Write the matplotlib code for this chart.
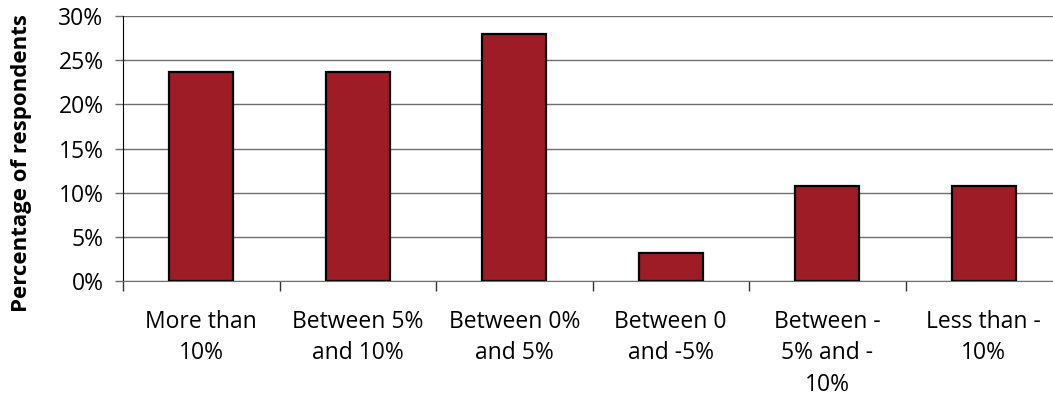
import matplotlib
matplotlib.use("Agg")
import matplotlib.pyplot as plt
from matplotlib.ticker import FixedLocator

categories = ["More than\n10%", "Between 5%\nand 10%", "Between 0%\nand 5%",
              "Between 0\nand -5%", "Between -\n5% and -\n10%", "Less than -\n10%"]
share = [23.7, 23.7, 28.0, 3.2, 10.8, 10.8]
yticks = [0, 5, 10, 15, 20, 25, 30]

label_font = dict(fontfamily="Open Sans", fontsize=16.5)

fig = plt.figure(figsize=(10.53, 3.99), dpi=100)
ax = fig.add_axes([123/1053, 1 - 281/399, 939/1053, 265/399])

x = list(range(len(categories)))
ax.bar(x, share, width=0.41, color="#9e1c25", edgecolor="black", linewidth=1.6, zorder=3)

ax.set_xlim(-0.5, len(categories) - 0.5)
ax.set_ylim(0, 30)
ax.set_yticks(yticks)
ax.set_yticklabels([f"{t}%" for t in yticks], **label_font)
ax.yaxis.grid(True, color="#6e6e6e", linewidth=1.0, zorder=0)

# category labels sit between the boundary ticks
ax.xaxis.set_major_locator(FixedLocator([i - 0.5 for i in range(len(categories) + 1)]))
ax.set_xticklabels([])
ax.xaxis.set_minor_locator(FixedLocator(x))
ax.set_xticklabels(categories, minor=True, linespacing=1.4, **label_font)
ax.tick_params(axis="x", which="minor", length=0, pad=21)
ax.tick_params(axis="x", which="major", length=7, width=1, color="#333333", direction="out")
ax.tick_params(axis="y", length=6, width=1, color="#6e6e6e", pad=8)

for side in ["top", "right"]:
    ax.spines[side].set_visible(False)
ax.spines["left"].set_color("black")
ax.spines["bottom"].set_color("#6e6e6e")

ax.set_ylabel("Percentage of respondents", fontfamily="Open Sans",
              fontweight="bold", fontsize=16)
ax.yaxis.set_label_coords(-91/939, 0.445)

fig.savefig("out.png", dpi=100)
